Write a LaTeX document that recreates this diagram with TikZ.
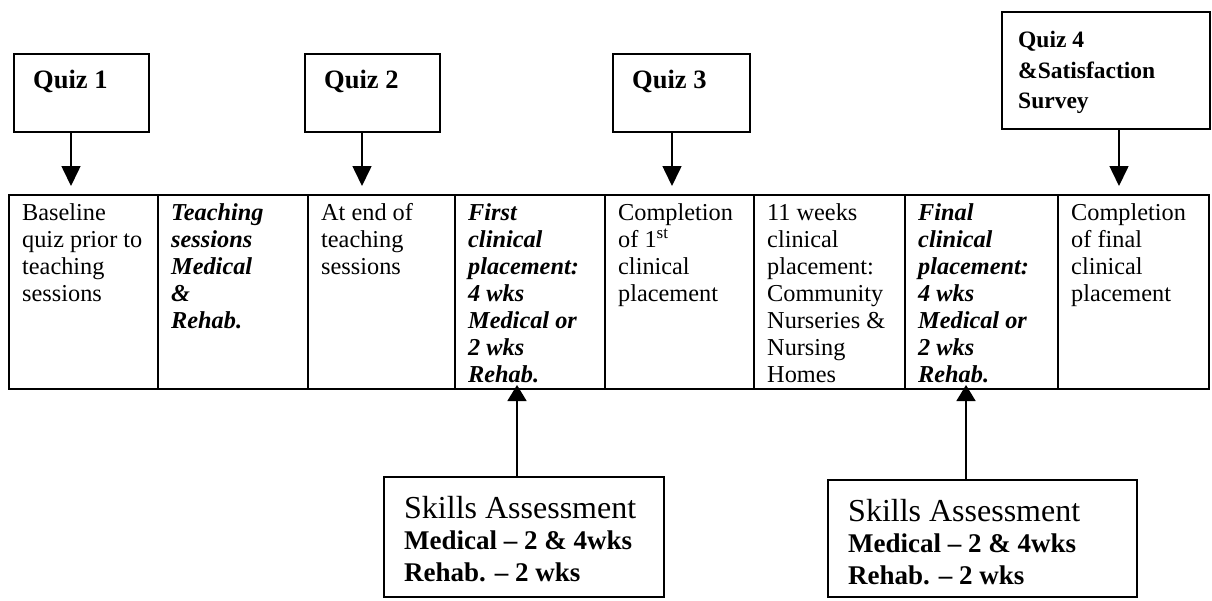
\documentclass[tikz,border=0pt]{standalone}
\usepackage{fontspec}
\setmainfont{Liberation Serif}
\usetikzlibrary{arrows.meta}

\begin{document}
\begin{tikzpicture}
        [x=1pt, y=-1pt,
        box/.style={draw, line width=1.6pt, inner sep=0, anchor=north west},
        quiztext/.style={anchor=north west, align=left, inner xsep=20pt, inner ysep=17pt, font=\fontsize{26.5}{30.5}\selectfont\bfseries},
        celltext/.style={anchor=north west, align=left, inner xsep=14pt, inner ysep=9pt, font=\fontsize{24.3}{27}\selectfont},
        skilltext/.style={anchor=north west, align=left, inner xsep=21pt, inner ysep=20pt, font=\fontsize{27}{31.5}\selectfont},
        down/.style={line width=1.6pt, -{Triangle[width=19pt, length=20pt]}},
        up/.style={line width=1.6pt, -{Triangle[width=19pt, length=16pt]}}]

        \useasboundingbox (0,0) rectangle (1212,600);

        % quiz boxes
        \node[box, minimum width=135pt, minimum height=78pt] (q1) at (13,53) {};
        \node[box, minimum width=135pt, minimum height=78pt] (q2) at (304,53) {};
        \node[box, minimum width=137pt, minimum height=78pt] (q3) at (612,53) {};
        \node[box, minimum width=208pt, minimum height=117pt] (q4) at (1001,11) {};

        \node[quiztext] (q1t) at (q1.north west) {Quiz 1};
        \node[quiztext] (q2t) at (q2.north west) {Quiz 2};
        \node[quiztext] (q3t) at (q3.north west) {Quiz 3};
        \node[quiztext, inner xsep=17pt, inner ysep=20pt, font=\fontsize{23.5}{30.5}\selectfont\bfseries] (q4t) at (q4.north west) {Quiz 4\\\&Satisfaction\\Survey};

        % timeline
        \node[box, minimum width=149pt, minimum height=194pt] (c1) at (8,194) {};
        \node[box, minimum width=150pt, minimum height=194pt] (c2) at (157,194) {};
        \node[box, minimum width=147pt, minimum height=194pt] (c3) at (307,194) {};
        \node[box, minimum width=150pt, minimum height=194pt] (c4) at (454,194) {};
        \node[box, minimum width=149pt, minimum height=194pt] (c5) at (604,194) {};
        \node[box, minimum width=151pt, minimum height=194pt] (c6) at (753,194) {};
        \node[box, minimum width=153pt, minimum height=194pt] (c7) at (904,194) {};
        \node[box, minimum width=151pt, minimum height=194pt] (c8) at (1057,194) {};

        \node[celltext] (c1t) at (c1.north west) {Baseline\\quiz prior to\\teaching\\sessions};
        \node[celltext, font=\fontsize{24.3}{27}\selectfont\bfseries\itshape] (c2t) at (c2.north west) {Teaching\\sessions\\Medical\\\&\\Rehab.};
        \node[celltext] (c3t) at (c3.north west) {At end of\\teaching\\sessions};
        \node[celltext, font=\fontsize{24.3}{27}\selectfont\bfseries\itshape] (c4t) at (c4.north west) {First\\clinical\\placement:\\4 wks\\Medical or\\2 wks\\Rehab.};
        \node[celltext] (c5t) at (c5.north west) {Completion\\of 1\textsuperscript{st}\\clinical\\placement};
        \node[celltext] (c6t) at (c6.north west) {11 weeks\\clinical\\placement:\\Community\\Nurseries \&\\Nursing\\Homes};
        \node[celltext, font=\fontsize{24.3}{27}\selectfont\bfseries\itshape] (c7t) at (c7.north west) {Final\\clinical\\placement:\\4 wks\\Medical or\\2 wks\\Rehab.};
        \node[celltext] (c8t) at (c8.north west) {Completion\\of final\\clinical\\placement};

        % skills boxes
        \node[box, minimum width=280pt, minimum height=120pt] (s1) at (383,476) {};
        \node[box, minimum width=309pt, minimum height=117pt] (s2) at (827,479) {};

        \node[skilltext] (s1t) at (s1.north west) {{\fontsize{32}{31.5}\selectfont Skills Assessment}\\\textbf{Medical -- 2 \& 4wks}\\\textbf{Rehab. -- 2 wks}};
        \node[skilltext] (s2t) at (s2.north west) {{\fontsize{32}{31.5}\selectfont Skills Assessment}\\\textbf{Medical -- 2 \& 4wks}\\\textbf{Rehab. -- 2 wks}};

        \coordinate (p1) at (71,186);
        \coordinate (p2) at (362,186);
        \coordinate (p3) at (672,186);
        \coordinate (p4) at (1119,186);
        \coordinate (p5) at (517,385);
        \coordinate (p6) at (966,385);

        \draw[down] (q1.south -| p1) -- (p1);
        \draw[down] (q2.south -| p2) -- (p2);
        \draw[down] (q3.south -| p3) -- (p3);
        \draw[down] (q4.south -| p4) -- (p4);
        \draw[up] (s1.north -| p5) -- (p5);
        \draw[up] (s2.north -| p6) -- (p6);

      \end{tikzpicture}
\end{document}
